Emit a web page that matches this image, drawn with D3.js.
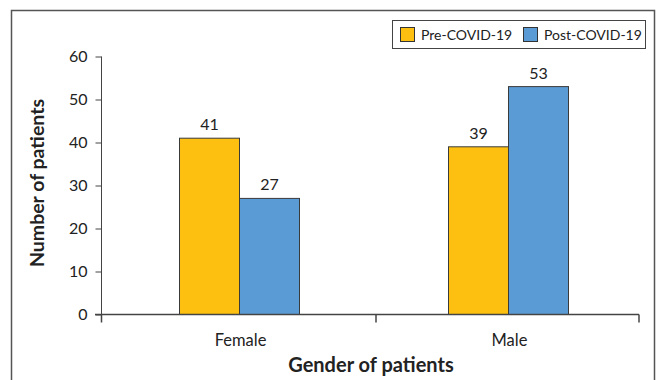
<!DOCTYPE html>
<html><head><meta charset="utf-8">
<script src="https://cdn.jsdelivr.net/npm/d3@7"></script>
<style>body{margin:0;background:#fff}svg{display:block}text{font-family:Lato,"Open Sans",sans-serif}</style>
</head><body>
<svg id="c" width="657" height="380"></svg>
<script>
const categories = ["Female", "Male"];
const seriesNames = ["Pre-COVID-19", "Post-COVID-19"];
const preCovid = [41, 39];
const postCovid = [27, 53];
const yTicks = [0, 10, 20, 30, 40, 50, 60];
const colors = ["#FDC010", "#5B9BD5"];

const svg = d3.select("#c");
// outer frame
svg.append("path").attr("d","M11.5,380 V10.5 H654.5 V380").attr("fill","none").attr("stroke","#555").attr("stroke-width",1.5);

const y = d3.scaleLinear().domain([0,60]).range([314.5,56.5]);
const x = d3.scaleBand().domain(categories).range([105,643]);
const inner = d3.scaleBand().domain(seriesNames).range([0,120]);
const offset = (x.bandwidth()-120)/2;

// y axis
const ya = svg.append("g").attr("transform","translate(101.5,0)").call(d3.axisLeft(y).tickValues(yTicks).tickSize(6).tickPadding(8));
ya.select(".domain").attr("stroke","#444").attr("d","M0,"+y(60)+"V"+(y(0)+7));
ya.selectAll(".tick line").attr("stroke","#444");
ya.selectAll("text").attr("font-size",16).attr("fill","#222");

// bars
const data = categories.map((c,i)=>({c, vals:[preCovid[i], postCovid[i]]}));
const g = svg.append("g");
data.forEach(d=>{
  d.vals.forEach((v,j)=>{
    const bx = x(d.c)+offset+inner(seriesNames[j]);
    g.append("rect").attr("x",bx).attr("y",y(v)).attr("width",inner.bandwidth()).attr("height",y(0)-y(v))
      .attr("fill",colors[j]).attr("stroke","#3a3a3a").attr("stroke-width",1);
    g.append("text").attr("x",bx+inner.bandwidth()/2).attr("y",y(v)-8).attr("text-anchor","middle")
      .attr("font-size",16).attr("fill","#222").text(v);
  });
});

// x axis
const xa = svg.append("g").attr("transform","translate(0,"+y(0)+")");
xa.append("line").attr("x1",95).attr("x2",639).attr("stroke","#444").attr("stroke-width",1.5);
const xt = [101.5, x("Male")+2, 639];
xt.forEach(t=>xa.append("line").attr("x1",t).attr("x2",t).attr("y1",0).attr("y2",8).attr("stroke","#444").attr("stroke-width",1.5));
categories.forEach(c=>xa.append("text").attr("x",x(c)+x.bandwidth()/2+1).attr("y",31).attr("text-anchor","middle")
  .attr("font-size",16.5).attr("fill","#222").text(c));

// axis titles
svg.append("text").attr("x",371).attr("y",372).attr("text-anchor","middle").attr("font-size",20).attr("font-weight","bold").attr("fill","#222").text("Gender of patients");
svg.append("text").attr("transform","translate(44,183) rotate(-90)").attr("text-anchor","middle").attr("font-size",19.5).attr("font-weight","bold").attr("fill","#222").text("Number of patients");

// legend
const lg = svg.append("g");
lg.append("rect").attr("x",392.5).attr("y",20.5).attr("width",253).attr("height",28).attr("fill","#fff").attr("stroke","#444").attr("stroke-width",1);
const lx = [400, 523];
seriesNames.forEach((s,i)=>{
  lg.append("rect").attr("x",lx[i]+0.5).attr("y",27.5).attr("width",14).attr("height",14).attr("fill",colors[i]).attr("stroke","#333");
  lg.append("text").attr("x",lx[i]+21).attr("y",39.5).attr("font-size",14).attr("fill","#222").text(s);
});
</script>
</body></html>
